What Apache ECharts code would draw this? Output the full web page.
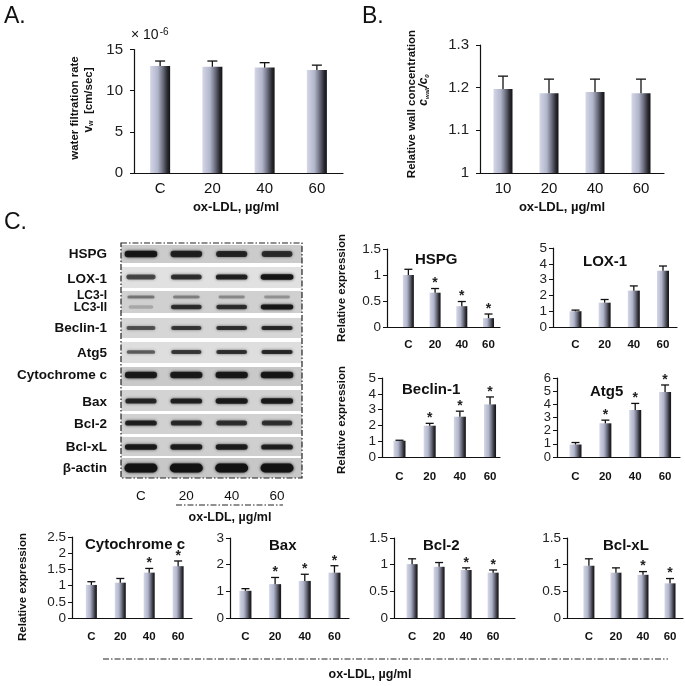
<!DOCTYPE html>
<html><head><meta charset="utf-8">
<script src="https://cdn.jsdelivr.net/npm/echarts@6/dist/echarts.min.js"></script>
<style>html,body{margin:0;padding:0;background:#fff}#c{width:685px;height:686px}</style>
</head><body><div id="c"></div>
<script>
// ---------- data ----------
const catsDose = ['C','20','40','60'];
const catsWall = ['10','20','40','60'];
const filtrationMean = [13.0, 12.9, 12.8, 12.5];
const filtrationSD   = [0.6, 0.7, 0.6, 0.6];
const wallMean = [1.197, 1.187, 1.19, 1.187];
const wallSD   = [0.03, 0.033, 0.03, 0.033];
const hspgMean = [1.0, 0.66, 0.40, 0.17];   const hspgSD = [0.11, 0.08, 0.09, 0.08];  const hspgStar = [0,1,1,1];
const loxMean  = [1.0, 1.54, 2.30, 3.56];   const loxSD  = [0.07, 0.20, 0.30, 0.30];  const loxStar  = [0,0,0,0];
const beclinMean = [1.03, 1.98, 2.55, 3.33]; const beclinSD = [0.03, 0.15, 0.35, 0.47]; const beclinStar = [0,1,1,1];
const atg5Mean = [0.95, 2.56, 3.57, 4.93];  const atg5SD = [0.15, 0.24, 0.50, 0.54]; const atg5Star = [0,1,1,1];
const cytoMean = [1.02, 1.09, 1.40, 1.60];  const cytoSD = [0.10, 0.13, 0.13, 0.16]; const cytoStar = [0,0,1,1];
const baxMean  = [1.02, 1.27, 1.39, 1.70];  const baxSD  = [0.08, 0.25, 0.25, 0.26]; const baxStar  = [0,1,1,1];
const bcl2Mean = [1.01, 0.96, 0.90, 0.85];  const bcl2SD = [0.10, 0.08, 0.04, 0.05]; const bcl2Star = [0,0,1,1];
const bclxlMean = [0.98, 0.85, 0.81, 0.65]; const bclxlSD = [0.13, 0.09, 0.06, 0.09]; const bclxlStar = [0,0,1,1];
const blotLabels = ['HSPG','LOX-1','LC3-I','LC3-II','Beclin-1','Atg5','Cytochrome c','Bax','Bcl-2','Bcl-xL','β-actin'];
const blotIntensity = [
  [0.95,0.85,0.80,0.75],
  [0.60,0.75,0.85,0.97],
  [0.35,0.30,0.25,0.20],
  [0.08,0.75,0.75,0.95],
  [0.55,0.70,0.75,0.80],
  [0.50,0.70,0.75,0.80],
  [0.90,0.90,0.92,0.95],
  [0.80,0.85,0.90,0.90],
  [0.85,0.78,0.75,0.72],
  [0.90,0.88,0.88,0.85],
  [1.00,1.00,1.00,1.00]
];

// ---------- layout / style ----------
const FF = 'Liberation Sans, Arial, sans-serif';
const barGrad = () => new echarts.graphic.LinearGradient(0,0,1,0,[
  {offset:0,color:'#d4d7e7'},{offset:0.38,color:'#b2b6cb'},{offset:0.64,color:'#6c6e7e'},
  {offset:0.86,color:'#2a2a32'},{offset:1,color:'#131313'}]);

const panels = [
  {mean:filtrationMean, sd:filtrationSD, stars:null, cats:catsDose, y:[0,15,5],
   L:{left:134,top:49.5,right:343,bottom:173,xMin:-0.5,xMax:3.5,barW:20,capW:5,yFont:15,yMargin:11,xFont:15,xBold:'normal',xMargin:8}},
  {mean:wallMean, sd:wallSD, stars:null, cats:catsWall, y:[1,1.3,0.1],
   L:{left:480,top:45,right:664,bottom:173,xMin:-0.5,xMax:3.5,barW:19,capW:5,yFont:15,yMargin:11,xFont:15,xBold:'normal',xMargin:8}},
  {mean:hspgMean, sd:hspgSD, stars:hspgStar, cats:catsDose, y:[0,1.5,0.5],
   L:{left:387,top:249,right:500,bottom:327,xMin:-0.8,xMax:3.43,barW:11,capW:4,yFont:13.5,yMargin:6,xFont:11.5,xBold:'bold',xMargin:12}},
  {mean:loxMean, sd:loxSD, stars:loxStar, cats:catsDose, y:[0,5,1],
   L:{left:553,top:248,right:677,bottom:327,xMin:-0.77,xMax:3.48,barW:12,capW:4,yFont:13.5,yMargin:6,xFont:11.5,xBold:'bold',xMargin:12}},
  {mean:beclinMean, sd:beclinSD, stars:beclinStar, cats:catsDose, y:[0,5,1],
   L:{left:382,top:378,right:500,bottom:457,xMin:-0.58,xMax:3.33,barW:12,capW:4,yFont:13.5,yMargin:6,xFont:11.5,xBold:'bold',xMargin:14}},
  {mean:atg5Mean, sd:atg5SD, stars:atg5Star, cats:catsDose, y:[0,6,1],
   L:{left:557,top:378,right:680,bottom:457,xMin:-0.62,xMax:3.5,barW:12,capW:4,yFont:13,yMargin:6,xFont:11.5,xBold:'bold',xMargin:14}},
  {mean:cytoMean, sd:cytoSD, stars:cytoStar, cats:catsDose, y:[0,2.5,0.5],
   L:{left:72,top:537,right:192,bottom:618,xMin:-0.67,xMax:3.48,barW:11,capW:4,yFont:13.5,yMargin:6,xFont:11.5,xBold:'bold',xMargin:13}},
  {mean:baxMean, sd:baxSD, stars:baxStar, cats:catsDose, y:[0,3,1],
   L:{left:230,top:538,right:349,bottom:618,xMin:-0.52,xMax:3.49,barW:12,capW:4,yFont:13.5,yMargin:6,xFont:11.5,xBold:'bold',xMargin:13}},
  {mean:bcl2Mean, sd:bcl2SD, stars:bcl2Star, cats:catsDose, y:[0,1.5,0.5],
   L:{left:394,top:538,right:515,bottom:618,xMin:-0.67,xMax:3.81,barW:11,capW:4,yFont:13.5,yMargin:6,xFont:11.5,xBold:'bold',xMargin:13}},
  {mean:bclxlMean, sd:bclxlSD, stars:bclxlStar, cats:catsDose, y:[0,1.5,0.5],
   L:{left:567,top:538,right:683,bottom:618,xMin:-0.81,xMax:3.48,barW:11,capW:4,yFont:13.5,yMargin:6,xFont:11.5,xBold:'bold',xMargin:13}}
];

// blot layout (pixel offsets inside blot box)
const blotBox = {left:121, top:243, width:181, height:235, xMin:-0.44, xMax:3.55};
const stripTop = [2,24,48,75,99,124,147,171,194,215];
const stripBot = [20,45,70,95,120,143,168,191,213,235];
const stripColor = ['#cbcbcb','#e1e1e1','#d0d0d0','#d6d6d6','#dedede','#c9c9c9','#d3d3d3','#d1d1d1','#cfcfcf','#c7c7c7'];
const bandY = [11,34,54,64,85,109,132,158,180,204,225];
const bandH = [6,5,3.5,4.5,4,4,6,5,5,5,8];
const labelY = [11,36,53,65,85,110,132,159,181,204,225];

const grid=[], xAxis=[], yAxis=[], series=[];
panels.forEach((p,i)=>{
  const L=p.L;
  grid.push({left:L.left, top:L.top, width:L.right-L.left, height:L.bottom-L.top, containLabel:false, outerBoundsMode:'none'});
  xAxis.push({type:'value', gridIndex:i, min:L.xMin, max:L.xMax,
    axisLine:{show:true,onZero:false,lineStyle:{color:'#111',width:1.2}}, axisTick:{show:false}, splitLine:{show:false},
    axisLabel:{customValues:[0,1,2,3], formatter:(v)=>p.cats[Math.round(v)], color:'#111', fontFamily:FF,
      fontSize:L.xFont, fontWeight:L.xBold, margin:L.xMargin}});
  yAxis.push({type:'value', gridIndex:i, min:p.y[0], max:p.y[1], interval:p.y[2],
    axisLine:{show:true,onZero:false,lineStyle:{color:'#111',width:1.2}},
    axisTick:{show:true,length:4,lineStyle:{color:'#111'}}, splitLine:{show:false},
    axisLabel:{color:'#222', fontFamily:FF, fontSize:L.yFont, margin:L.yMargin,
      showMinLabel:true, showMaxLabel:true, hideOverlap:false}});
  series.push({type:'bar', xAxisIndex:i, yAxisIndex:i, barWidth:L.barW, data:p.mean.map((v,j)=>[j,v]),
    itemStyle:{color:barGrad()}, z:2});
  series.push({type:'custom', xAxisIndex:i, yAxisIndex:i, z:3,
    data:p.mean.map((v,j)=>[j, v, v+p.sd[j], p.stars? p.stars[j]:0]),
    renderItem:(params,api)=>{
      const x=api.value(0), m=api.value(1), t=api.value(2), s=api.value(3);
      const p0=api.coord([x,m]), p1=api.coord([x,t]);
      const st={stroke:'#111',lineWidth:1.3};
      const ch=[{type:'line',shape:{x1:p0[0],y1:p0[1],x2:p1[0],y2:p1[1]},style:st},
                {type:'line',shape:{x1:p1[0]-L.capW,y1:p1[1],x2:p1[0]+L.capW,y2:p1[1]},style:st}];
      if(s) ch.push({type:'text',style:{text:'*',x:p1[0],y:p1[1]-12,align:'center',verticalAlign:'top',
        font:'bold 14px '+FF,fill:'#222'}});
      return {type:'group',children:ch};
    }});
});

// blot grid
const bi = panels.length;
grid.push({left:blotBox.left, top:blotBox.top, width:blotBox.width, height:blotBox.height, containLabel:false, outerBoundsMode:'none'});
xAxis.push({type:'value', gridIndex:bi, min:blotBox.xMin, max:blotBox.xMax, axisLine:{show:false}, axisTick:{show:false}, splitLine:{show:false},
  axisLabel:{customValues:[0,1,2,3], formatter:(v)=>catsDose[Math.round(v)], color:'#111', fontFamily:FF, fontSize:13.5, margin:11}});
yAxis.push({type:'value', gridIndex:bi, min:0, max:blotBox.height, inverse:true, show:false});
// strips
series.push({type:'custom', xAxisIndex:bi, yAxisIndex:bi, z:1,
  data: stripTop.map((t,k)=>[t, stripBot[k], k]),
  renderItem:(params,api)=>{
    const cs=params.coordSys;
    const a=api.coord([0,api.value(0)])[1], b=api.coord([0,api.value(1)])[1];
    return {type:'rect',shape:{x:cs.x,y:a,width:cs.width,height:b-a},style:{fill:stripColor[api.value(2)]}};
  }});
// bands
const bandData=[];
blotIntensity.forEach((row,r)=>row.forEach((I,lane)=>bandData.push([lane, bandY[r], I, bandH[r]])));
series.push({type:'custom', xAxisIndex:bi, yAxisIndex:bi, z:2, data:bandData,
  renderItem:(params,api)=>{
    const c=api.coord([api.value(0),api.value(1)]); const I=api.value(2); const h=api.value(3)*(0.75+0.35*I);
    const w=24+9*I;
    const col='rgba(18,18,18,'+(0.12+0.85*I).toFixed(3)+')';
    return {type:'rect',shape:{x:c[0]-w/2,y:c[1]-h/2,width:w,height:h,r:h/2},
      style:{fill:col,shadowBlur:3,shadowColor:col}};
  }});
// blot labels (text)
series.push({type:'custom', xAxisIndex:bi, yAxisIndex:bi, z:3, data:blotLabels.map((n,k)=>[blotBox.xMin, labelY[k], k]),
  renderItem:(params,api)=>{
    const c=api.coord([api.value(0),api.value(1)]); const k=api.value(2);
    const small = (k===2||k===3);
    return {type:'text',style:{text:blotLabels[k],x:107,y:c[1],align:'right',verticalAlign:'middle',
      font:'bold '+(small?12:13.5)+'px '+FF,fill:'#111'}};
  }});

// ---------- free text ----------
const T=(text,x,y,size,opt={})=>Object.assign({type:'text',x:x,y:y,rotation:opt.rot||0,
  style:Object.assign({text:text,x:0,y:0,align:opt.align||'left',verticalAlign:opt.va||'top',
  fontFamily:FF,fontSize:size,fontWeight:opt.bold?'bold':'normal',fill:'#111'},opt.style||{})});
const R=Math.PI/2;
const graphic=[
  T('A.',4,5,23), T('B.',362,5,23), T('C.',4,211,23),
  T('× 10{sup|-6}',131,27,14,{style:{rich:{sup:{fontSize:10,verticalAlign:'top',padding:[0,0,7,1],fontFamily:FF,fill:'#111'}}}}),
  T('water filtration rate',75,108,11.5,{rot:R,align:'center',va:'middle',bold:true}),
  T('{i|v}{s|w}  [cm/sec]',89,100,11.5,{rot:R,align:'center',va:'middle',bold:true,
     style:{rich:{i:{fontSize:12,fontWeight:'bold',fontFamily:FF},s:{fontSize:7,fontWeight:'bold',verticalAlign:'bottom',fontFamily:FF}}}}),
  T('Relative wall concentration',412,104,11.5,{rot:R,align:'center',va:'middle',bold:true}),
  T('{i|c}{s|wall}{i|/c}{s|0}',424,90,11.5,{rot:R,align:'center',va:'middle',bold:true,
     style:{rich:{i:{fontSize:12,fontWeight:'bold',fontStyle:'italic',fontFamily:FF},s:{fontSize:6,fontWeight:'bold',fontStyle:'italic',verticalAlign:'bottom',fontFamily:FF}}}}),
  T('ox-LDL, µg/ml',236,207,13,{align:'center',va:'middle',bold:true}),
  T('ox-LDL, µg/ml',562,207,13,{align:'center',va:'middle',bold:true}),
  T('ox-LDL, µg/ml',230,518,12.5,{align:'center',va:'middle',bold:true}),
  T('ox-LDL, µg/ml',370,675,12.5,{align:'center',va:'middle',bold:true}),
  T('Relative expression',342,288,11.5,{rot:R,align:'center',va:'middle',bold:true}),
  T('Relative expression',342,420,11.5,{rot:R,align:'center',va:'middle',bold:true}),
  T('Relative expression',23,587,11.5,{rot:R,align:'center',va:'middle',bold:true}),
  T('HSPG',415,260,15,{va:'middle',bold:true}),
  T('LOX-1',583,262,15,{va:'middle',bold:true}),
  T('Beclin-1',402,390,15,{va:'middle',bold:true}),
  T('Atg5',590,392,15,{va:'middle',bold:true}),
  T('Cytochrome c',85,545,15,{va:'middle',bold:true}),
  T('Bax',269,546,15,{va:'middle',bold:true}),
  T('Bcl-2',423,546,15,{va:'middle',bold:true}),
  T('Bcl-xL',603,546,15,{va:'middle',bold:true}),
  {type:'rect',shape:{x:121,y:243,width:181,height:235},style:{fill:null,stroke:'#222',lineWidth:1.2,lineDash:[6,2,1.5,2]},z:10},
  {type:'line',shape:{x1:176,y1:505,x2:283,y2:505},style:{stroke:'#222',lineWidth:1.2,lineDash:[6,2,1.5,2]}},
  {type:'line',shape:{x1:103,y1:659,x2:668,y2:659},style:{stroke:'#222',lineWidth:1.2,lineDash:[6,2,1.5,2]}}
];

const chart = echarts.init(document.getElementById('c'), null, {renderer:'canvas'});
chart.setOption({animation:false, backgroundColor:'#fff', textStyle:{fontFamily:FF},
  grid, xAxis, yAxis, series, graphic});
</script></body></html>
